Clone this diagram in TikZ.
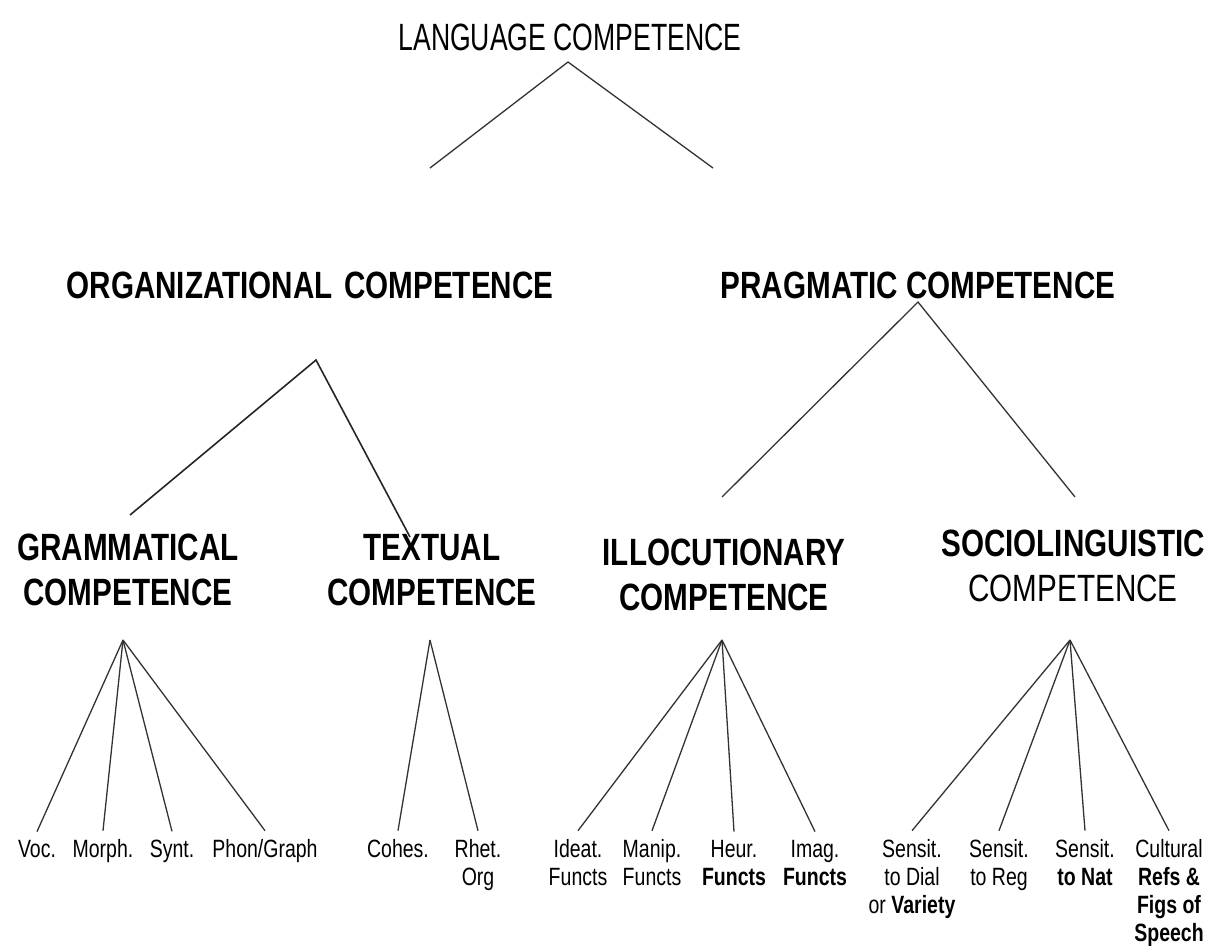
\documentclass[tikz,border=0pt]{standalone}
\usepackage{fontspec}
\setmainfont{Liberation Sans}
\newfontfamily\condfont[FakeStretch=0.78]{Liberation Sans}
\newfontfamily\narrowfont[FakeStretch=0.70]{Liberation Sans}
\begin{document}
\begin{tikzpicture}[x=1pt,y=-1pt,
  title/.style={font=\narrowfont\fontsize{38}{40}\selectfont, inner sep=0pt},
  head/.style={font=\condfont\bfseries\fontsize{38}{45}\selectfont, align=center, inner sep=0pt},
  sub/.style={font=\condfont\bfseries\fontsize{38}{45}\selectfont, align=center, inner sep=0pt, anchor=north},
  leaf/.style={font=\condfont\fontsize{25}{28}\selectfont, align=center, inner sep=0pt, anchor=base},
  link/.style={line width=1.6pt, black!85},
  thin/.style={line width=1.3pt, black!80}]
\useasboundingbox (0,0) rectangle (1215,945);
\fill[white] (0,0) rectangle (1215,945);

% nodes
\node[title] (lang) at (570,37) {LANGUAGE COMPETENCE};
\node[head] (org) at (310,285) {ORGANIZATIONAL\hspace{0.3em}COMPETENCE};
\node[head] (prag) at (918,285) {PRAGMATIC COMPETENCE};
\node[sub] (gram) at (128,534) {GRAMMATICAL\\COMPETENCE};
\node[sub] (text) at (432,534) {TEXTUAL\\COMPETENCE};
\node[sub] (illoc) at (724,539) {ILLOCUTIONARY\\COMPETENCE};
\node[sub] (socio) at (1073,530) {SOCIOLINGUISTIC\\{\mdseries COMPETENCE}};

% leaves (anchor = baseline of last line; first baselines all at 857)
\node[leaf] (voc) at (37,857) {Voc.};
\node[leaf] (morph) at (103,857) {Morph.};
\node[leaf] (synt) at (172,857) {Synt.};
\node[leaf] (phon) at (265,857) {Phon/Graph};
\node[leaf] (cohes) at (398,857) {Cohes.};
\node[leaf] (rhet) at (478,885) {Rhet.\\Org};
\node[leaf] (ideat) at (578,885) {Ideat.\\Functs};
\node[leaf] (manip) at (652,885) {Manip.\\Functs};
\node[leaf] (heur) at (734,885) {Heur.\\\textbf{Functs}};
\node[leaf] (imag) at (815,885) {Imag.\\\textbf{Functs}};
\node[leaf] (sdial) at (912,913) {Sensit.\\to Dial\\or \textbf{Variety}};
\node[leaf] (sreg) at (999,885) {Sensit.\\to Reg};
\node[leaf] (snat) at (1085,885) {Sensit.\\\textbf{to Nat}};
\node[leaf] (cult) at (1169,941) {Cultural\\\textbf{Refs \&}\\\textbf{Figs of}\\\textbf{Speech}};

% connector points
\coordinate (lang-a) at (568,62);
\coordinate (org-t) at (430,168);
\coordinate (prag-t) at (713,168);
\coordinate (org-a) at (316,360);
\coordinate (gram-t) at (130,515);
\coordinate (text-t) at (410,537);
\coordinate (prag-a) at (918,302);
\coordinate (illoc-t) at (722,497);
\coordinate (socio-t) at (1075,497);
\coordinate (gram-a) at (123,640);
\coordinate (text-a) at (430,640);
\coordinate (illoc-a) at (722,640);
\coordinate (socio-a) at (1070,640);

% connectors
\draw[thin] (org-t) -- (lang-a) -- (prag-t);
\draw[link] (gram-t) -- (org-a) -- (text-t);
\draw[thin] (illoc-t) -- (prag-a) -- (socio-t);
\foreach \c in {voc,morph,synt,phon} \draw[thin] (gram-a) -- ([yshift=8pt]\c.north);
\foreach \c in {cohes,rhet} \draw[thin] (text-a) -- ([yshift=8pt]\c.north);
\foreach \c in {ideat,manip,heur,imag} \draw[thin] (illoc-a) -- ([yshift=8pt]\c.north);
\foreach \c in {sdial,sreg,snat,cult} \draw[thin] (socio-a) -- ([yshift=8pt]\c.north);
\end{tikzpicture}
\end{document}
